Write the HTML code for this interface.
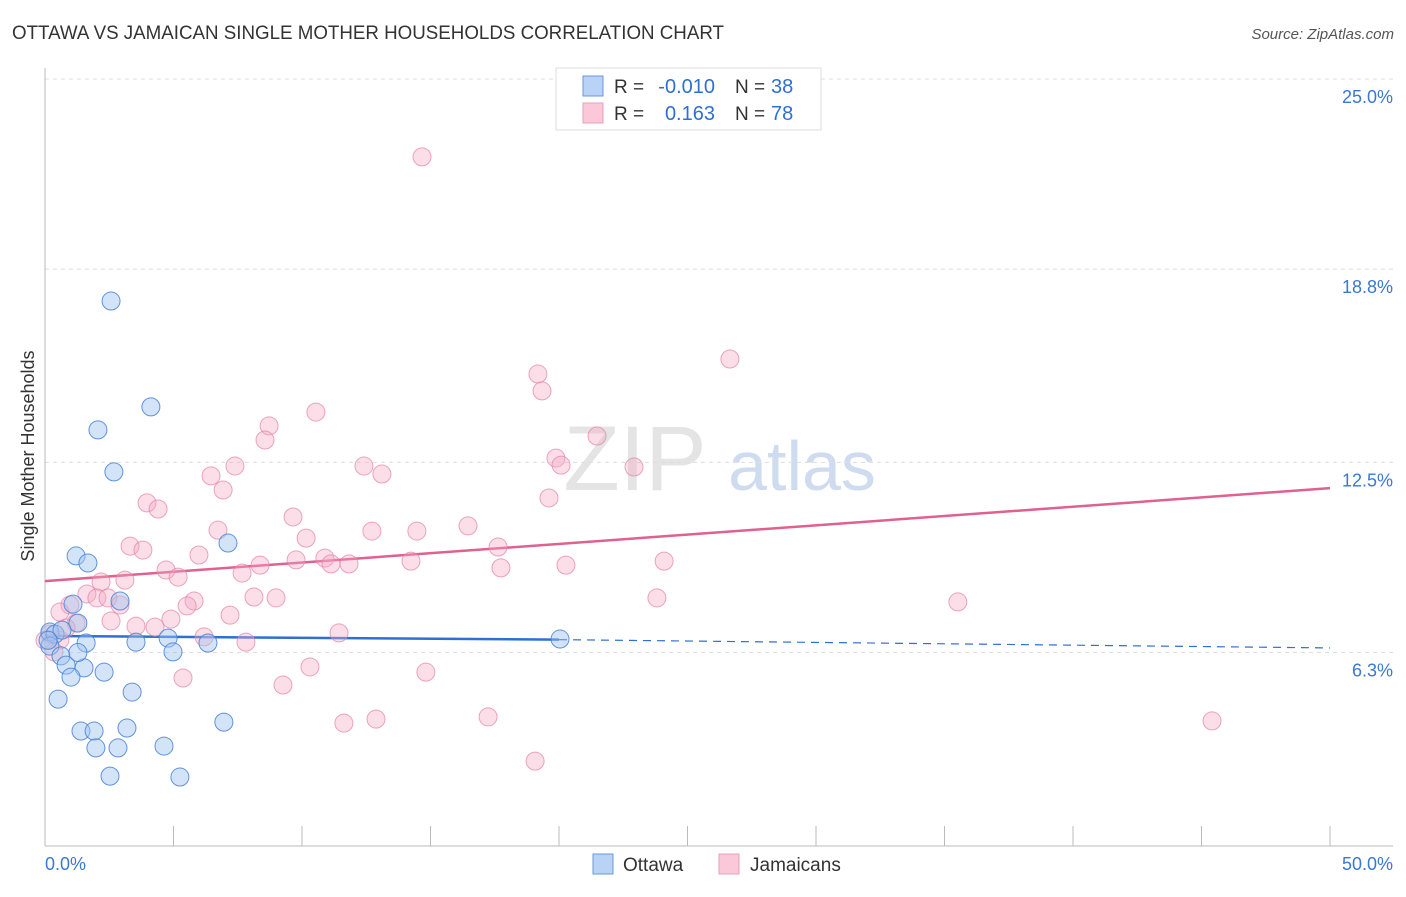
<!DOCTYPE html>
<html><head><meta charset="utf-8"><style>
body{margin:0;background:#fff;font-family:"Liberation Sans",sans-serif}
svg text{font-family:"Liberation Sans",sans-serif}
</style></head><body>
<svg id="chart" width="1406" height="892" xmlns="http://www.w3.org/2000/svg">
<text x="12" y="39" font-size="19" fill="#333" textLength="712" lengthAdjust="spacingAndGlyphs">OTTAWA VS JAMAICAN SINGLE MOTHER HOUSEHOLDS CORRELATION CHART</text>
<text x="1394" y="39" font-size="15" fill="#555" text-anchor="end" font-style="italic">Source: ZipAtlas.com</text>
<text x="635" y="490" font-size="92" fill="#e4e4e4" font-family="Liberation Serif" text-anchor="middle">ZIP</text>
<text x="802" y="490" font-size="70" fill="#cfdcf0" text-anchor="middle">atlas</text>
<g id="grid"></g><g id="axes"></g><g id="trend"></g><g id="pts"></g>
<text transform="translate(34,456) rotate(-90)" font-size="18" fill="#333" text-anchor="middle">Single Mother Households</text>
<g>
<rect x="556" y="68" width="265" height="62" fill="#fff" stroke="#ddd"/>
<rect x="583" y="76" width="20" height="20" fill="#b8d3f5" stroke="#6a9ad8"/>
<rect x="583" y="103" width="20" height="20" fill="#fac8d8" stroke="#eaa0b8"/>
<text x="614" y="93" font-size="19" fill="#333">R =</text>
<text x="715" y="93" font-size="20" fill="#2f6fd4" text-anchor="end">-0.010</text>
<text x="735" y="93" font-size="19" fill="#333">N =</text>
<text x="771" y="93" font-size="20" fill="#2f6fd4">38</text>
<text x="614" y="120" font-size="19" fill="#333">R =</text>
<text x="715" y="120" font-size="20" fill="#2f6fd4" text-anchor="end">0.163</text>
<text x="735" y="120" font-size="19" fill="#333">N =</text>
<text x="771" y="120" font-size="20" fill="#2f6fd4">78</text>
</g>
<g>
<rect x="593" y="854" width="20" height="20" fill="#b8d3f5" stroke="#6a9ad8"/>
<text x="623" y="871" font-size="19" fill="#333">Ottawa</text>
<rect x="719" y="854" width="20" height="20" fill="#fac8d8" stroke="#eaa0b8"/>
<text x="750" y="871" font-size="19" fill="#333">Jamaicans</text>
</g>
</svg>
<script>
const yTicks=[25.0,18.8,12.5,6.3];
const yTickLabels=["25.0%","18.8%","12.5%","6.3%"];
const xTickLabels=["0.0%","50.0%"];
const ottawaX=[2.57,4.12,2.06,2.68,1.21,1.67,7.12,1.09,2.92,1.28,0.19,0.39,0.19,1.60,3.54,4.79,6.34,20.04,0.62,0.82,1.52,1.01,2.30,4.98,3.39,0.51,6.96,1.40,1.91,3.19,1.98,2.84,4.63,2.53,5.25,0.66,0.12,1.28];
const ottawaY=[17.76,14.31,13.56,12.19,9.45,9.22,9.87,7.88,7.98,7.26,6.97,6.90,6.51,6.61,6.64,6.77,6.61,6.74,6.19,5.89,5.80,5.50,5.66,6.32,5.01,4.78,4.03,3.74,3.74,3.84,3.19,3.19,3.25,2.27,2.24,7.03,6.70,6.30];
const jamX=[14.67,26.65,19.18,19.34,10.54,8.72,8.56,21.48,12.41,7.39,19.88,20.08,22.92,13.11,6.46,6.93,19.61,3.97,4.40,9.65,16.46,6.73,12.72,14.47,10.16,3.31,3.81,17.63,5.99,9.77,10.89,11.13,11.83,14.24,24.09,4.71,8.37,20.27,17.74,5.18,7.67,2.18,3.11,1.63,2.02,2.45,5.80,8.13,8.99,23.81,35.52,0.97,0.58,2.92,5.53,7.20,2.57,4.90,4.28,3.54,1.21,0.19,0.58,6.19,7.82,11.44,0.35,10.31,5.37,14.82,9.26,11.63,12.88,17.24,45.41,19.07,0.0,0.82];
const jamY=[22.46,15.87,15.38,14.83,14.14,13.69,13.23,13.36,12.38,12.38,12.64,12.41,12.35,12.12,12.06,11.60,11.34,11.18,10.98,10.72,10.43,10.29,10.26,10.26,10.03,9.77,9.64,9.74,9.48,9.32,9.38,9.19,9.19,9.28,9.28,8.99,9.15,9.15,9.06,8.76,8.89,8.60,8.66,8.21,8.08,8.08,7.98,8.11,8.08,8.08,7.95,7.85,7.62,7.85,7.82,7.52,7.33,7.39,7.13,7.16,7.26,6.90,6.71,6.81,6.64,6.94,6.32,5.83,5.47,5.66,5.24,4.00,4.13,4.20,4.07,2.76,6.70,7.10];
const ottawaTrend=[6.84,6.72,6.45]; // at x=0, 20, 50
const jamTrend=[8.63,11.66]; // at x=0, 50
const NS="http://www.w3.org/2000/svg";
const X=v=>45+v/50*1285, Y=v=>79+(25-v)*30.67;
function mk(tag,attrs,parent){const e=document.createElementNS(NS,tag);for(const k in attrs)e.setAttribute(k,attrs[k]);document.getElementById(parent).appendChild(e);return e;}
yTicks.forEach((t,i)=>{
 const g=mk('line',{x1:45,x2:1393,y1:Y(t),y2:Y(t),stroke:'#ddd','stroke-dasharray':'4,4'},'grid');
 
 
 const l=mk('text',{x:1393,y:Y(t)+24,'font-size':18,fill:'#3a78d4','text-anchor':'end'},'axes');
 l.textContent=yTickLabels[i];
 
 
});
const ya=mk('line',{x1:45,x2:45,y1:68,y2:846,stroke:'#bbb'},'axes');


const xa=mk('line',{x1:45,x2:1393,y1:846,y2:846,stroke:'#bbb'},'axes');


for(let i=0;i<=10;i++){
 const t=mk('line',{x1:X(i*5),x2:X(i*5),y1:826,y2:846,stroke:'#bbb'},'axes');
 
 
}
[[0,'start',45],[50,'end',1393]].forEach((d,i)=>{
 const l=mk('text',{x:d[2],y:870,'font-size':18,fill:'#3a78d4','text-anchor':d[1]},'axes');
 l.textContent=xTickLabels[i];
 
 
});
jamX.forEach((x,i)=>{
 const c=mk('circle',{cx:X(x),cy:Y(jamY[i]),r:9,fill:'rgba(245,168,195,0.38)',stroke:'rgba(228,130,165,0.7)','stroke-width':1},'pts');
 
 
});
ottawaX.forEach((x,i)=>{
 const c=mk('circle',{cx:X(x),cy:Y(ottawaY[i]),r:9,fill:'rgba(160,195,240,0.45)',stroke:'rgba(70,130,215,0.85)','stroke-width':1},'pts');
 
 
});
const t1=mk('line',{x1:X(0),y1:Y(ottawaTrend[0]),x2:X(20),y2:Y(ottawaTrend[1]),stroke:'#2f6fd4','stroke-width':2.5},'trend');


const t2=mk('line',{x1:X(20),y1:Y(ottawaTrend[1]),x2:X(50),y2:Y(ottawaTrend[2]),stroke:'#2f6fd4','stroke-width':1.2,'stroke-dasharray':'8,6'},'trend');


const t3=mk('line',{x1:X(0),y1:Y(jamTrend[0]),x2:X(50),y2:Y(jamTrend[1]),stroke:'#e0608e','stroke-width':2.5},'trend');


</script>
</body></html>
